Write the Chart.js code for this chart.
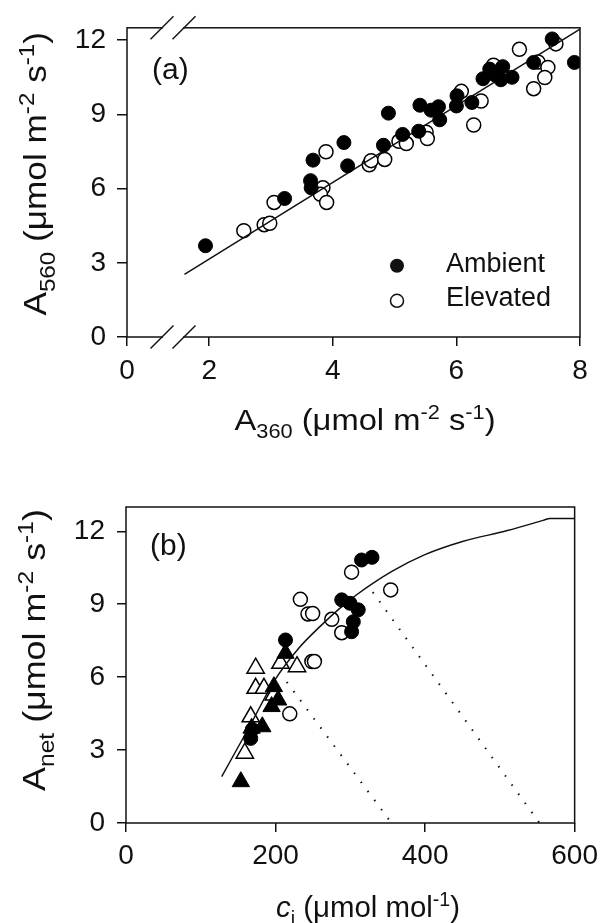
<!DOCTYPE html>
<html lang="en">
<head>
<meta charset="UTF-8">
<title>A560 vs A360 and Anet vs ci</title>
<style>
  html, body { margin: 0; padding: 0; background: #fff; }
  canvas { display: block; }
</style>
</head>
<body>
<canvas id="chartA" width="605" height="460"></canvas>
<canvas id="chartB" width="605" height="463"></canvas>

<script src="https://cdn.jsdelivr.net/npm/chart.js"></script>
<script>
  // ---- panel (a): A560 against A360 ----
  const ambientAX = [1.94, 3.22, 3.68, 3.64, 3.65, 4.18, 4.24, 4.90, 4.82, 5.13, 5.39, 5.41, 5.59, 5.71, 5.73, 6.01, 6.00, 6.25, 6.43, 6.54, 6.62, 6.75, 6.72, 6.90, 7.25, 7.55, 7.91];
  const ambientAY = [3.69, 5.60, 7.15, 6.32, 6.03, 7.86, 6.92, 9.05, 7.75, 8.19, 8.32, 9.37, 9.17, 9.31, 8.78, 9.75, 9.34, 9.48, 10.44, 10.83, 10.60, 10.93, 10.40, 10.50, 11.10, 12.05, 11.10];
  const elevatedAX = [2.56, 2.89, 2.98, 3.05, 3.89, 3.84, 3.80, 3.90, 4.59, 4.62, 4.84, 5.07, 5.19, 5.51, 5.53, 6.08, 6.40, 6.28, 6.60, 7.02, 7.32, 7.48, 7.43, 7.25, 7.61];
  const elevatedAY = [4.30, 4.54, 4.60, 5.44, 7.49, 6.03, 5.77, 5.44, 6.96, 7.13, 7.18, 7.91, 7.82, 8.28, 8.02, 9.93, 9.54, 8.57, 10.99, 11.63, 11.12, 10.90, 10.49, 10.04, 11.85];
  const fitAX = [1.6, 8.0];
  const fitAY = [2.53, 12.45];
  // the x axis is broken, the "0" tick sits at the left edge
  const xTickValsA = [0.67, 2, 4, 6, 8];
  const xTickLabelsA = ['0', '2', '4', '6', '8'];
  const yTickValsA = [0, 3, 6, 9, 12];

  // ---- panel (b): Anet against ci ----
  const ambCircBX = [315, 329, 288.5, 299.6, 310.6, 304, 301.7, 213.3, 166.8, 169];
  const ambCircBY = [10.82, 10.93, 9.18, 9.04, 8.77, 8.28, 7.87, 7.53, 3.48, 3.85];
  const elevCircBX = [301.7, 354, 233.2, 243.4, 249.6, 275.2, 288.5, 248.6, 252, 219];
  const elevCircBY = [10.32, 9.59, 9.2, 8.6, 8.62, 8.38, 7.83, 6.64, 6.64, 4.49];
  const ambTriBX = [153.6, 182.3, 194.7, 203.5, 197.8, 213.3, 168];
  const ambTriBY = [1.70, 3.96, 4.79, 5.06, 5.61, 6.98, 3.90];
  const elevTriBX = [173.4, 206.6, 228.7, 173.4, 184.5, 197.8, 166.8, 158.9];
  const elevTriBY = [6.37, 6.57, 6.43, 5.54, 5.54, 5.27, 4.37, 2.87];
  const curveBX = [128, 165, 199, 231, 260, 288.5, 308, 355, 399, 450, 510, 558, 567, 600];
  const curveBY = [1.91, 3.96, 5.88, 7.19, 8.1, 8.9, 9.38, 10.34, 11.03, 11.58, 12.03, 12.45, 12.53, 12.53];
  const supply1X = [215, 355];
  const supply1Y = [5.8, 0];
  const supply2X = [330, 553];
  const supply2Y = [9.5, 0];
  const xTickValsB = [0, 200, 400, 600];
  const yTickValsB = [0, 3, 6, 9, 12];

  const FONT = '"Liberation Sans", Arial, sans-serif';
  Chart.defaults.font.family = FONT;
  Chart.defaults.color = '#111';

  const pts = (xs, ys) => xs.map((x, i) => ({ x: x, y: ys[i] }));

  // draws text with sub/superscripts, centred on (x, y) baseline; sx stretches along the text
  function drawRich(ctx, parts, x, y, size, rotate, sx) {
    const small = Math.round(size * 0.68);
    const fontOf = p => (p[1] === 'it' ? 'italic ' : '') + ((p[1] === 'sub' || p[1] === 'sup') ? small : size) + 'px ' + FONT;
    ctx.save();
    ctx.translate(x, y);
    if (rotate) ctx.rotate(-Math.PI / 2);
    ctx.scale(sx || 1, 1);
    ctx.fillStyle = '#111';
    ctx.textAlign = 'left';
    ctx.textBaseline = 'alphabetic';
    let w = 0;
    parts.forEach(p => { ctx.font = fontOf(p); w += ctx.measureText(p[0]).width; });
    let cx = -w / 2;
    parts.forEach(p => {
      ctx.font = fontOf(p);
      const dy = p[1] === 'sub' ? size * 0.27 : (p[1] === 'sup' ? -size * 0.38 : 0);
      ctx.fillText(p[0], cx, dy);
      cx += ctx.measureText(p[0]).width;
    });
    ctx.restore();
  }

  function drawFrame(ctx, a) {
    ctx.save();
    ctx.strokeStyle = '#111';
    ctx.lineWidth = 1.5;
    ctx.strokeRect(a.left, a.top, a.right - a.left, a.bottom - a.top);
    ctx.restore();
  }

  const titleXA = [['A', ''], ['360', 'sub'], [' (\u03bcmol m', ''], ['-2', 'sup'], [' s', ''], ['-1', 'sup'], [')', '']];
  const titleYA = [['A', ''], ['560', 'sub'], [' (\u03bcmol m', ''], ['-2', 'sup'], [' s', ''], ['-1', 'sup'], [')', '']];
  const titleXB = [['c', 'it'], ['i', 'sub'], [' (\u03bcmol mol', ''], ['-1', 'sup'], [')', '']];
  const titleYB = [['A', ''], ['net', 'sub'], [' (\u03bcmol m', ''], ['-2', 'sup'], [' s', ''], ['-1', 'sup'], [')', '']];

  const decorA = {
    id: 'decorA',
    afterDraw(chart) {
      const ctx = chart.ctx, a = chart.chartArea;
      drawFrame(ctx, a);
      // axis break marks on the top and bottom border
      ctx.save();
      ctx.fillStyle = '#fff';
      [a.top, a.bottom].forEach(yb => {
        ctx.fillRect(a.left + 36, yb - 2, 20, 4);
        ctx.strokeStyle = '#111';
        ctx.lineWidth = 1.5;
        [a.left + 35, a.left + 57].forEach(xc => {
          ctx.beginPath();
          ctx.moveTo(xc - 11.5, yb + 11.5);
          ctx.lineTo(xc + 11.5, yb - 11.5);
          ctx.stroke();
        });
      });
      ctx.restore();
      // panel label
      ctx.save();
      ctx.fillStyle = '#111';
      ctx.font = '30px ' + FONT;
      ctx.fillText('(a)', a.left + 25, a.top + 51);
      // legend
      ctx.beginPath();
      ctx.arc(a.left + 270, a.top + 238, 7, 0, Math.PI * 2);
      ctx.fill();
      ctx.beginPath();
      ctx.arc(a.left + 270, a.top + 273, 6.5, 0, Math.PI * 2);
      ctx.lineWidth = 1.5;
      ctx.strokeStyle = '#111';
      ctx.stroke();
      ctx.font = '27px ' + FONT;
      ctx.fillText('Ambient', a.left + 319, a.top + 244);
      ctx.fillText('Elevated', a.left + 319, a.top + 278);
      ctx.restore();
      drawRich(ctx, titleXA, a.left + 238, a.bottom + 93, 30, false, 1.09);
      drawRich(ctx, titleYA, 46, a.top + 146, 32, true, 1.1);
    }
  };

  const decorB = {
    id: 'decorB',
    afterDraw(chart) {
      const ctx = chart.ctx, a = chart.chartArea;
      drawFrame(ctx, a);
      ctx.save();
      ctx.fillStyle = '#111';
      ctx.font = '30px ' + FONT;
      ctx.fillText('(b)', a.left + 24, a.top + 48);
      ctx.restore();
      drawRich(ctx, titleXB, a.left + 242, a.bottom + 94, 30, false, 0.98);
      drawRich(ctx, titleYB, 45, a.top + 143, 32, true, 1.12);
    }
  };

  function axisOpts(extra) {
    return Object.assign({
      type: 'linear',
      border: { display: false },
      grid: { drawOnChartArea: false, drawTicks: true, tickLength: 9, color: '#111', lineWidth: 1.5 },
      ticks: { font: { size: 27 }, color: '#111', autoSkip: false, maxRotation: 0 }
    }, extra);
  }

  new Chart(document.getElementById('chartA').getContext('2d'), {
    type: 'scatter',
    data: {
      datasets: [
        { label: 'Ambient', data: pts(ambientAX, ambientAY), order: 0,
          pointRadius: 7, pointBackgroundColor: '#000', pointBorderColor: '#000', pointBorderWidth: 1 },
        { label: 'Fit', type: 'line', data: pts(fitAX, fitAY), order: 1,
          showLine: true, pointRadius: 0, borderColor: '#111', borderWidth: 1.5, fill: false },
        { label: 'Elevated', data: pts(elevatedAX, elevatedAY), order: 2,
          pointRadius: 7, pointBackgroundColor: '#fff', pointBorderColor: '#000', pointBorderWidth: 1.5 }
      ]
    },
    options: {
      responsive: false,
      animation: false,
      layout: { padding: { top: 22, right: 25, left: 0, bottom: 0 } },
      plugins: { legend: { display: false }, tooltip: { enabled: false } },
      scales: {
        x: axisOpts({
          min: 0.67, max: 8,
          afterFit: s => { s.height = 123; },
          afterBuildTicks: s => { s.ticks = xTickValsA.map(v => ({ value: v })); },
          ticks: { font: { size: 28 }, color: '#111', autoSkip: false, maxRotation: 0, padding: 8,
                   callback: (v, i) => xTickLabelsA[i] }
        }),
        y: axisOpts({
          min: 0, max: 12.5,
          afterFit: s => { s.width = 127; },
          afterBuildTicks: s => { s.ticks = yTickValsA.map(v => ({ value: v })); },
          grid: { drawOnChartArea: false, drawTicks: true, tickLength: 10, color: '#111', lineWidth: 1.5 },
          ticks: { font: { size: 28 }, color: '#111', autoSkip: false, padding: 11 }
        })
      }
    },
    plugins: [decorA]
  });

  new Chart(document.getElementById('chartB').getContext('2d'), {
    type: 'scatter',
    data: {
      datasets: [
        { label: 'Ambient circles', data: pts(ambCircBX, ambCircBY), order: 0,
          pointRadius: 7, pointBackgroundColor: '#000', pointBorderColor: '#000', pointBorderWidth: 1 },
        { label: 'Ambient triangles', data: pts(ambTriBX, ambTriBY), order: 0,
          pointStyle: 'triangle', pointRadius: 10, pointBackgroundColor: '#000', pointBorderColor: '#000', pointBorderWidth: 1 },
        { label: 'Model', type: 'line', data: pts(curveBX, curveBY), order: 1,
          showLine: true, pointRadius: 0, borderColor: '#111', borderWidth: 1.5, fill: false,
          cubicInterpolationMode: 'monotone' },
        { label: 'Supply 360', type: 'line', data: pts(supply1X, supply1Y), order: 1,
          showLine: true, pointRadius: 0, borderColor: '#111', borderWidth: 2, borderDash: [1.5, 9.8], fill: false },
        { label: 'Supply 560', type: 'line', data: pts(supply2X, supply2Y), order: 1,
          showLine: true, pointRadius: 0, borderColor: '#111', borderWidth: 2, borderDash: [1.5, 9.8], fill: false },
        { label: 'Elevated circles', data: pts(elevCircBX, elevCircBY), order: 2,
          pointRadius: 7, pointBackgroundColor: '#fff', pointBorderColor: '#000', pointBorderWidth: 1.5 },
        { label: 'Elevated triangles', data: pts(elevTriBX, elevTriBY), order: 2,
          pointStyle: 'triangle', pointRadius: 10, pointBackgroundColor: '#fff', pointBorderColor: '#000', pointBorderWidth: 1.5 }
      ]
    },
    options: {
      responsive: false,
      animation: false,
      layout: { padding: { top: 47, right: 27, left: 0, bottom: 0 } },
      plugins: { legend: { display: false }, tooltip: { enabled: false } },
      scales: {
        x: axisOpts({
          min: 0, max: 600,
          afterFit: s => { s.height = 100; },
          afterBuildTicks: s => { s.ticks = xTickValsB.map(v => ({ value: v })); },
          ticks: { font: { size: 28 }, color: '#111', autoSkip: false, maxRotation: 0, padding: 7 }
        }),
        y: axisOpts({
          min: 0, max: 13,
          afterFit: s => { s.width = 126; },
          afterBuildTicks: s => { s.ticks = yTickValsB.map(v => ({ value: v })); },
          grid: { drawOnChartArea: false, drawTicks: true, tickLength: 9, color: '#111', lineWidth: 1.5 },
          ticks: { font: { size: 28 }, color: '#111', autoSkip: false, padding: 12 }
        })
      }
    },
    plugins: [decorB]
  });
</script>
</body>
</html>
